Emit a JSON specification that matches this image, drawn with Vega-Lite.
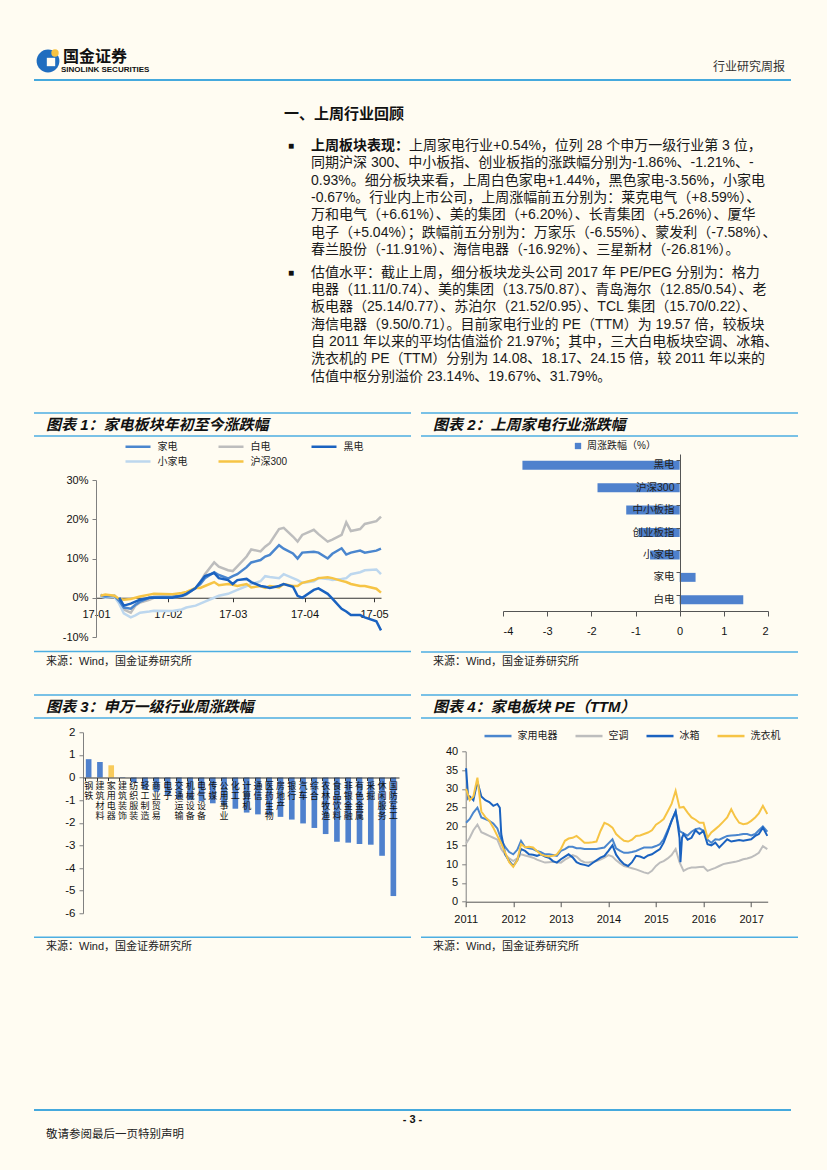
{
"$schema":"https://vega.github.io/schema/vega-lite/v6.json",
"padding":{"left":33,"top":40,"right":32,"bottom":25},
"background":"#FFFCF2",
"config":{
  "view":{"stroke":null},
  "font":"Liberation Sans, Noto Sans CJK SC",
  "axis":{"labelFont":"Liberation Sans, Noto Sans CJK SC","labelColor":"#111","labelFontSize":11,"domainColor":"#808080","tickColor":"#808080","grid":false},
  "legend":{"labelFont":"Liberation Sans, Noto Sans CJK SC","labelFontSize":10,"labelColor":"#222","padding":0},
  "text":{"font":"Liberation Sans, Noto Sans CJK SC"}
},
"resolve":{"scale":{"color":"independent","x":"independent","y":"independent"},"legend":{"color":"independent"}},
"spacing":0,
"vconcat":[
{
 "width":757,"height":40,
 "layer":[
  {"data":{"values":[{"p":0}]},"mark":{"type":"rule","color":"#45A9DD","strokeWidth":2},"encoding":{"y":{"field":"p","type":"quantitative","scale":{"domain":[0,1]},"axis":null}}},
  {"data":{"values":[{"k":"logo"}]},"mark":{"type":"point","shape":"circle","filled":true,"size":520,"color":"#1F6DBF","opacity":1,"xOffset":14,"yOffset":1},"encoding":{"x":{"datum":0,"type":"quantitative","scale":{"domain":[0,1]},"axis":null},"y":{"datum":0.5,"type":"quantitative","scale":{"domain":[0,1]},"axis":null}}},
  {"data":{"values":[{"k":"logo"}]},"mark":{"type":"point","shape":"square","filled":true,"size":70,"color":"#FFFCF2","opacity":1,"xOffset":17,"yOffset":2},"encoding":{"x":{"datum":0,"type":"quantitative","scale":{"domain":[0,1]},"axis":null},"y":{"datum":0.5,"type":"quantitative","scale":{"domain":[0,1]},"axis":null}}},
  {"data":{"values":[{"k":"logo"}]},"mark":{"type":"point","shape":"circle","filled":true,"size":55,"color":"#F5C242","opacity":1,"xOffset":21,"yOffset":-7},"encoding":{"x":{"datum":0,"type":"quantitative","scale":{"domain":[0,1]},"axis":null},"y":{"datum":0.5,"type":"quantitative","scale":{"domain":[0,1]},"axis":null}}},
  {"data":{"values":[{"t":"国金证券"}]},"mark":{"type":"text","align":"left","baseline":"middle","dx":29,"dy":-3,"fontSize":16,"fontWeight":"bold","font":"Noto Sans CJK SC","color":"#111"},"encoding":{"x":{"datum":0,"type":"quantitative","scale":{"domain":[0,1]},"axis":null},"y":{"datum":0.5,"type":"quantitative","scale":{"domain":[0,1]},"axis":null},"text":{"field":"t"}}},
  {"data":{"values":[{"t":"SINOLINK SECURITIES"}]},"mark":{"type":"text","align":"left","baseline":"middle","dx":27,"dy":10,"fontSize":8,"fontWeight":"bold","font":"Liberation Sans","color":"#111"},"encoding":{"x":{"datum":0,"type":"quantitative","scale":{"domain":[0,1]},"axis":null},"y":{"datum":0.5,"type":"quantitative","scale":{"domain":[0,1]},"axis":null},"text":{"field":"t"}}},
  {"data":{"values":[{"t":"行业研究周报"}]},"mark":{"type":"text","align":"right","baseline":"middle","dx":-6,"dy":7,"fontSize":12,"font":"Noto Sans CJK SC","color":"#333"},"encoding":{"x":{"datum":1,"type":"quantitative","scale":{"domain":[0,1]},"axis":null},"y":{"datum":0.5,"type":"quantitative","scale":{"domain":[0,1]},"axis":null},"text":{"field":"t"}}}
 ]
},
{
 "spacing":27,
 "resolve":{"scale":{"color":"independent","x":"independent","y":"independent"},"legend":{"color":"independent"}},
 "vconcat":[
  {
   "spacing":12,
   "hconcat":[
    {"width":238,"height":1,"data":{"values":[]},"mark":"point","encoding":{}},
    {
     "spacing":0,
     "vconcat":[
      {"width":507,"height":50,"data":{"values":[{"t":"一、上周行业回顾"}]},"mark":{"type":"text","align":"left","baseline":"middle","dy":8,"fontSize":15,"fontWeight":"bold","font":"Noto Sans CJK SC","color":"#111"},"encoding":{"x":{"datum":0,"type":"quantitative","scale":{"domain":[0,1]},"axis":null},"y":{"datum":0.5,"type":"quantitative","scale":{"domain":[0,1]},"axis":null},"text":{"field":"t"}}},
      {"width":507,"height":133.8,
       "data":{"values":[
        {"ln":1,"b":"■","pre":"上周板块表现：","t":"上周家电行业+0.54%，位列 28 个申万一级行业第 3 位，"},
        {"ln":2,"t":"同期沪深 300、中小板指、创业板指的涨跌幅分别为-1.86%、-1.21%、-"},
        {"ln":3,"t":"0.93%。细分板块来看，上周白色家电+1.44%，黑色家电-3.56%，小家电"},
        {"ln":4,"t":"-0.67%。行业内上市公司，上周涨幅前五分别为：莱克电气（+8.59%）、"},
        {"ln":5,"t":"万和电气（+6.61%）、美的集团（+6.20%）、长青集团（+5.26%）、厦华"},
        {"ln":6,"t":"电子（+5.04%）；跌幅前五分别为：万家乐（-6.55%）、蒙发利（-7.58%）、"},
        {"ln":7,"t":"春兰股份（-11.91%）、海信电器（-16.92%）、三星新材（-26.81%）。"}
       ]},
       "encoding":{"x":{"datum":0,"type":"quantitative","scale":{"domain":[0,1]},"axis":null},"y":{"field":"ln","type":"ordinal","scale":{"type":"point","padding":0.867},"axis":null}},
       "layer":[
        {"transform":[{"filter":"datum.b"}],"mark":{"type":"text","align":"left","baseline":"middle","dx":4,"fontSize":10,"color":"#111"},"encoding":{"text":{"field":"b"}}},
        {"transform":[{"filter":"datum.pre"}],"mark":{"type":"text","align":"left","baseline":"middle","dx":27,"fontSize":14,"fontWeight":"bold","color":"#111"},"encoding":{"text":{"field":"pre"}}},
        {"transform":[{"filter":"datum.pre"}],"mark":{"type":"text","align":"left","baseline":"middle","dx":125,"fontSize":14,"color":"#1a1a1a"},"encoding":{"text":{"field":"t"}}},
        {"transform":[{"filter":"!datum.pre"}],"mark":{"type":"text","align":"left","baseline":"middle","dx":27,"fontSize":14,"color":"#1a1a1a"},"encoding":{"text":{"field":"t"}}}
       ]},
      {"width":507,"height":119.2,
       "data":{"values":[
        {"ln":1,"b":"■","t":"估值水平：截止上周，细分板块龙头公司 2017 年 PE/PEG 分别为：格力"},
        {"ln":2,"t":"电器（11.11/0.74）、美的集团（13.75/0.87）、青岛海尔（12.85/0.54）、老"},
        {"ln":3,"t":"板电器（25.14/0.77）、苏泊尔（21.52/0.95）、TCL 集团（15.70/0.22）、"},
        {"ln":4,"t":"海信电器（9.50/0.71）。目前家电行业的 PE（TTM）为 19.57 倍，较板块"},
        {"ln":5,"t":"自 2011 年以来的平均估值溢价 21.97%；其中，三大白电板块空调、冰箱、"},
        {"ln":6,"t":"洗衣机的 PE（TTM）分别为 14.08、18.17、24.15 倍，较 2011 年以来的"},
        {"ln":7,"t":"估值中枢分别溢价 23.14%、19.67%、31.79%。"}
       ]},
       "encoding":{"x":{"datum":0,"type":"quantitative","scale":{"domain":[0,1]},"axis":null},"y":{"field":"ln","type":"ordinal","scale":{"type":"point","padding":0.445},"axis":null}},
       "layer":[
        {"transform":[{"filter":"datum.b"}],"mark":{"type":"text","align":"left","baseline":"middle","dx":4,"fontSize":10,"color":"#111"},"encoding":{"text":{"field":"b"}}},
        {"mark":{"type":"text","align":"left","baseline":"middle","dx":27,"fontSize":14,"color":"#1a1a1a"},"encoding":{"text":{"field":"t"}}}
       ]}
     ]
    }
   ]
  },
  {
   "spacing":22,
   "resolve":{"scale":{"color":"independent","x":"independent","y":"independent"},"legend":{"color":"independent"}},
   "vconcat":[
    {
     "spacing":8,
     "resolve":{"scale":{"color":"independent","x":"independent","y":"independent"},"legend":{"color":"independent"}},
     "hconcat":[
      {
       "spacing":8.5,
       "resolve":{"scale":{"color":"independent","x":"independent","y":"independent"},"legend":{"color":"independent"}},
       "vconcat":[
        {
         "spacing":3,
         "resolve":{"scale":{"color":"independent","x":"independent","y":"independent"},"legend":{"color":"independent"}},
         "vconcat":[
          {"width":377,"height":23,"layer":[
            {"data":{"values":[{"p":0},{"p":1}]},"mark":{"type":"rule","color":"#4DAEE2","strokeWidth":1.5},"encoding":{"y":{"field":"p","type":"quantitative","scale":{"domain":[0,1]},"axis":null}}},
            {"data":{"values":[{"t":"图表 1：家电板块年初至今涨跌幅"}]},"mark":{"type":"text","align":"left","baseline":"middle","dx":12,"fontSize":15,"fontWeight":"bold","fontStyle":"italic","color":"#111"},"encoding":{"x":{"datum":0,"type":"quantitative","scale":{"domain":[0,1]},"axis":null},"y":{"datum":0.5,"type":"quantitative","scale":{"domain":[0,1]},"axis":null},"text":{"field":"t"}}}
          ]},
          {
           "spacing":21,
           "resolve":{"scale":{"color":"independent","x":"independent","y":"independent"},"legend":{"color":"independent"}},
           "hconcat":[
            {"width":1,"height":1,"data":{"values":[]},"mark":"point","encoding":{}},
            {
             "width":285,"height":157,
             "data":{"values":[
{"s":"白电","d":"2017-01-03","v":0.8},{"s":"白电","d":"2017-01-05","v":0.3},{"s":"白电","d":"2017-01-09","v":0.4},{"s":"白电","d":"2017-01-11","v":-1.0},{"s":"白电","d":"2017-01-13","v":-3.0},{"s":"白电","d":"2017-01-16","v":-3.8},{"s":"白电","d":"2017-01-18","v":-2.0},{"s":"白电","d":"2017-01-20","v":-1.2},{"s":"白电","d":"2017-01-24","v":-0.5},{"s":"白电","d":"2017-01-26","v":0.0},
{"s":"白电","d":"2017-02-03","v":0.0},{"s":"白电","d":"2017-02-07","v":0.3},{"s":"白电","d":"2017-02-09","v":0.8},{"s":"白电","d":"2017-02-13","v":2.5},{"s":"白电","d":"2017-02-15","v":4.0},{"s":"白电","d":"2017-02-17","v":6.0},{"s":"白电","d":"2017-02-21","v":9.0},{"s":"白电","d":"2017-02-23","v":7.9},{"s":"白电","d":"2017-02-27","v":7.0},
{"s":"白电","d":"2017-03-01","v":6.8},{"s":"白电","d":"2017-03-03","v":8.0},{"s":"白电","d":"2017-03-07","v":10.5},{"s":"白电","d":"2017-03-09","v":12.3},{"s":"白电","d":"2017-03-13","v":11.8},{"s":"白电","d":"2017-03-15","v":13.0},{"s":"白电","d":"2017-03-17","v":13.9},{"s":"白电","d":"2017-03-21","v":17.5},{"s":"白电","d":"2017-03-23","v":17.8},{"s":"白电","d":"2017-03-27","v":15.6},{"s":"白电","d":"2017-03-29","v":14.3},{"s":"白电","d":"2017-03-31","v":16.0},
{"s":"白电","d":"2017-04-05","v":17.3},{"s":"白电","d":"2017-04-07","v":16.2},{"s":"白电","d":"2017-04-11","v":14.3},{"s":"白电","d":"2017-04-13","v":14.8},{"s":"白电","d":"2017-04-17","v":16.0},{"s":"白电","d":"2017-04-19","v":19.2},{"s":"白电","d":"2017-04-21","v":17.0},{"s":"白电","d":"2017-04-25","v":17.5},{"s":"白电","d":"2017-04-27","v":18.8},
{"s":"白电","d":"2017-05-02","v":19.5},{"s":"白电","d":"2017-05-04","v":20.7},
{"s":"小家电","d":"2017-01-03","v":0.3},{"s":"小家电","d":"2017-01-05","v":0.0},{"s":"小家电","d":"2017-01-09","v":0.2},{"s":"小家电","d":"2017-01-11","v":-1.5},{"s":"小家电","d":"2017-01-13","v":-4.0},{"s":"小家电","d":"2017-01-16","v":-5.0},{"s":"小家电","d":"2017-01-18","v":-4.5},{"s":"小家电","d":"2017-01-20","v":-3.8},{"s":"小家电","d":"2017-01-24","v":-3.5},{"s":"小家电","d":"2017-01-26","v":-3.3},
{"s":"小家电","d":"2017-02-03","v":-3.4},{"s":"小家电","d":"2017-02-07","v":-3.0},{"s":"小家电","d":"2017-02-09","v":-2.5},{"s":"小家电","d":"2017-02-13","v":-2.0},{"s":"小家电","d":"2017-02-15","v":-1.5},{"s":"小家电","d":"2017-02-17","v":-1.0},{"s":"小家电","d":"2017-02-21","v":0.0},{"s":"小家电","d":"2017-02-23","v":0.5},{"s":"小家电","d":"2017-02-27","v":1.0},
{"s":"小家电","d":"2017-03-01","v":1.5},{"s":"小家电","d":"2017-03-03","v":2.0},{"s":"小家电","d":"2017-03-07","v":3.0},{"s":"小家电","d":"2017-03-09","v":3.5},{"s":"小家电","d":"2017-03-13","v":4.2},{"s":"小家电","d":"2017-03-15","v":5.5},{"s":"小家电","d":"2017-03-17","v":5.3},{"s":"小家电","d":"2017-03-21","v":5.0},{"s":"小家电","d":"2017-03-23","v":6.0},{"s":"小家电","d":"2017-03-27","v":5.0},{"s":"小家电","d":"2017-03-29","v":4.5},{"s":"小家电","d":"2017-03-31","v":3.8},
{"s":"小家电","d":"2017-04-05","v":4.2},{"s":"小家电","d":"2017-04-07","v":5.0},{"s":"小家电","d":"2017-04-11","v":4.8},{"s":"小家电","d":"2017-04-13","v":4.5},{"s":"小家电","d":"2017-04-17","v":4.8},{"s":"小家电","d":"2017-04-19","v":5.0},{"s":"小家电","d":"2017-04-21","v":6.0},{"s":"小家电","d":"2017-04-25","v":6.5},{"s":"小家电","d":"2017-04-27","v":7.0},
{"s":"小家电","d":"2017-05-02","v":7.2},{"s":"小家电","d":"2017-05-04","v":6.0},
{"s":"家电","d":"2017-01-03","v":0.5},{"s":"家电","d":"2017-01-05","v":0.3},{"s":"家电","d":"2017-01-09","v":0.5},{"s":"家电","d":"2017-01-11","v":-0.8},{"s":"家电","d":"2017-01-13","v":-2.5},{"s":"家电","d":"2017-01-16","v":-2.8},{"s":"家电","d":"2017-01-18","v":-1.8},{"s":"家电","d":"2017-01-20","v":-1.0},{"s":"家电","d":"2017-01-24","v":0.0},{"s":"家电","d":"2017-01-26","v":0.2},
{"s":"家电","d":"2017-02-03","v":0.3},{"s":"家电","d":"2017-02-07","v":0.5},{"s":"家电","d":"2017-02-09","v":1.0},{"s":"家电","d":"2017-02-13","v":2.5},{"s":"家电","d":"2017-02-15","v":3.5},{"s":"家电","d":"2017-02-17","v":5.0},{"s":"家电","d":"2017-02-21","v":6.5},{"s":"家电","d":"2017-02-23","v":5.8},{"s":"家电","d":"2017-02-27","v":4.9},
{"s":"家电","d":"2017-03-01","v":5.5},{"s":"家电","d":"2017-03-03","v":6.0},{"s":"家电","d":"2017-03-07","v":7.8},{"s":"家电","d":"2017-03-09","v":9.0},{"s":"家电","d":"2017-03-13","v":9.6},{"s":"家电","d":"2017-03-15","v":10.5},{"s":"家电","d":"2017-03-17","v":10.9},{"s":"家电","d":"2017-03-21","v":13.4},{"s":"家电","d":"2017-03-23","v":12.5},{"s":"家电","d":"2017-03-27","v":11.3},{"s":"家电","d":"2017-03-29","v":10.0},{"s":"家电","d":"2017-03-31","v":11.5},
{"s":"家电","d":"2017-04-05","v":11.7},{"s":"家电","d":"2017-04-07","v":11.5},{"s":"家电","d":"2017-04-11","v":10.0},{"s":"家电","d":"2017-04-13","v":11.2},{"s":"家电","d":"2017-04-17","v":12.6},{"s":"家电","d":"2017-04-19","v":11.0},{"s":"家电","d":"2017-04-21","v":11.5},{"s":"家电","d":"2017-04-25","v":12.0},{"s":"家电","d":"2017-04-27","v":11.5},
{"s":"家电","d":"2017-05-02","v":12.0},{"s":"家电","d":"2017-05-04","v":12.5},
{"s":"沪深300","d":"2017-01-03","v":0.5},{"s":"沪深300","d":"2017-01-05","v":0.8},{"s":"沪深300","d":"2017-01-09","v":0.5},{"s":"沪深300","d":"2017-01-11","v":-0.3},{"s":"沪深300","d":"2017-01-13","v":-0.5},{"s":"沪深300","d":"2017-01-16","v":-0.3},{"s":"沪深300","d":"2017-01-18","v":0.0},{"s":"沪深300","d":"2017-01-20","v":0.3},{"s":"沪深300","d":"2017-01-24","v":0.8},{"s":"沪深300","d":"2017-01-26","v":1.0},
{"s":"沪深300","d":"2017-02-03","v":0.9},{"s":"沪深300","d":"2017-02-07","v":1.2},{"s":"沪深300","d":"2017-02-09","v":1.5},{"s":"沪深300","d":"2017-02-13","v":2.5},{"s":"沪深300","d":"2017-02-15","v":2.5},{"s":"沪深300","d":"2017-02-17","v":3.0},{"s":"沪深300","d":"2017-02-21","v":4.0},{"s":"沪深300","d":"2017-02-23","v":3.2},{"s":"沪深300","d":"2017-02-27","v":3.5},
{"s":"沪深300","d":"2017-03-01","v":3.3},{"s":"沪深300","d":"2017-03-03","v":3.0},{"s":"沪深300","d":"2017-03-07","v":3.5},{"s":"沪深300","d":"2017-03-09","v":2.6},{"s":"沪深300","d":"2017-03-13","v":3.0},{"s":"沪深300","d":"2017-03-15","v":2.5},{"s":"沪深300","d":"2017-03-17","v":3.0},{"s":"沪深300","d":"2017-03-21","v":2.6},{"s":"沪深300","d":"2017-03-23","v":3.5},{"s":"沪深300","d":"2017-03-27","v":3.0},{"s":"沪深300","d":"2017-03-29","v":3.0},{"s":"沪深300","d":"2017-03-31","v":3.8},
{"s":"沪深300","d":"2017-04-05","v":4.5},{"s":"沪深300","d":"2017-04-07","v":5.0},{"s":"沪深300","d":"2017-04-11","v":5.2},{"s":"沪深300","d":"2017-04-13","v":5.0},{"s":"沪深300","d":"2017-04-17","v":4.3},{"s":"沪深300","d":"2017-04-19","v":4.0},{"s":"沪深300","d":"2017-04-21","v":3.5},{"s":"沪深300","d":"2017-04-25","v":3.0},{"s":"沪深300","d":"2017-04-27","v":3.0},
{"s":"沪深300","d":"2017-05-02","v":2.3},{"s":"沪深300","d":"2017-05-04","v":1.3},
{"s":"黑电","d":"2017-01-11","v":0.0},{"s":"黑电","d":"2017-01-13","v":-2.0},{"s":"黑电","d":"2017-01-16","v":-1.5},{"s":"黑电","d":"2017-01-18","v":-1.0},{"s":"黑电","d":"2017-01-20","v":-0.5},{"s":"黑电","d":"2017-01-24","v":0.0},{"s":"黑电","d":"2017-01-26","v":0.0},
{"s":"黑电","d":"2017-02-03","v":0.0},{"s":"黑电","d":"2017-02-07","v":0.5},{"s":"黑电","d":"2017-02-09","v":1.0},{"s":"黑电","d":"2017-02-13","v":2.5},{"s":"黑电","d":"2017-02-15","v":4.0},{"s":"黑电","d":"2017-02-17","v":5.5},{"s":"黑电","d":"2017-02-21","v":6.3},{"s":"黑电","d":"2017-02-23","v":5.0},{"s":"黑电","d":"2017-02-27","v":4.5},
{"s":"黑电","d":"2017-03-01","v":3.5},{"s":"黑电","d":"2017-03-03","v":4.5},{"s":"黑电","d":"2017-03-07","v":4.8},{"s":"黑电","d":"2017-03-09","v":4.0},{"s":"黑电","d":"2017-03-13","v":3.0},{"s":"黑电","d":"2017-03-15","v":2.8},{"s":"黑电","d":"2017-03-17","v":2.5},{"s":"黑电","d":"2017-03-21","v":3.0},{"s":"黑电","d":"2017-03-23","v":3.5},{"s":"黑电","d":"2017-03-27","v":2.8},{"s":"黑电","d":"2017-03-29","v":0.5},{"s":"黑电","d":"2017-03-31","v":0.0},
{"s":"黑电","d":"2017-04-05","v":2.0},{"s":"黑电","d":"2017-04-07","v":2.4},{"s":"黑电","d":"2017-04-11","v":1.0},{"s":"黑电","d":"2017-04-13","v":-0.2},{"s":"黑电","d":"2017-04-17","v":-2.8},{"s":"黑电","d":"2017-04-19","v":-3.5},{"s":"黑电","d":"2017-04-21","v":-4.4},{"s":"黑电","d":"2017-04-25","v":-4.4},{"s":"黑电","d":"2017-04-27","v":-5.0},
{"s":"黑电","d":"2017-05-02","v":-6.0},{"s":"黑电","d":"2017-05-04","v":-8.3}
             ]},
             "mark":{"type":"line","strokeWidth":2.5},
             "encoding":{
              "x":{"field":"d","type":"temporal","scale":{"domain":[{"year":2017,"month":1,"date":1},{"year":2017,"month":5,"date":4}]},"axis":{"title":null,"format":"%y-%m","tickCount":{"interval":"month","step":1},"offset":-39.25,"labelFlush":false,"labelOverlap":false,"labelPadding":7,"tickSize":4,"domainColor":"#333","tickColor":"#333"}},
              "y":{"field":"v","type":"quantitative","scale":{"domain":[-10,30]},"axis":{"title":null,"values":[-10,0,10,20,30],"labelExpr":"datum.value + '%'","tickSize":4,"labelPadding":4,"minExtent":40,"maxExtent":40}},
              "color":{"field":"s","type":"nominal","scale":{"domain":["家电","白电","黑电","小家电","沪深300"],"range":["#4A86CE","#BDBDBD","#1A62C0","#BDD7EE","#F6C445"]},"legend":{"title":null,"orient":"none","legendX":35.5,"legendY":-40,"direction":"horizontal","columns":3,"gridAlign":"all","columnPadding":19,"rowPadding":3,"symbolType":"M-2.5,0H2.5","symbolSize":100,"symbolStrokeWidth":2.5,"labelOffset":13}}
             }
            }
           ]
          }
         ]
        },
        {"width":377,"height":20,"layer":[
          {"data":{"values":[{"p":1}]},"mark":{"type":"rule","color":"#4DAEE2","strokeWidth":1.5},"encoding":{"y":{"field":"p","type":"quantitative","scale":{"domain":[0,1]},"axis":null}}},
          {"data":{"values":[{"t":"来源：Wind，国金证券研究所"}]},"mark":{"type":"text","align":"left","baseline":"middle","dx":12,"dy":10,"fontSize":11,"color":"#222"},"encoding":{"x":{"datum":0,"type":"quantitative","scale":{"domain":[0,1]},"axis":null},"y":{"datum":1,"type":"quantitative","scale":{"domain":[0,1]},"axis":null},"text":{"field":"t"}}}
        ]}
       ]
      },
      {
       "spacing":15,
       "resolve":{"scale":{"color":"independent","x":"independent","y":"independent"},"legend":{"color":"independent"}},
       "vconcat":[
        {
         "spacing":4,
         "resolve":{"scale":{"color":"independent","x":"independent","y":"independent"},"legend":{"color":"independent"}},
         "vconcat":[
          {"width":377,"height":23,"layer":[
            {"data":{"values":[{"p":0},{"p":1}]},"mark":{"type":"rule","color":"#4DAEE2","strokeWidth":1.5},"encoding":{"y":{"field":"p","type":"quantitative","scale":{"domain":[0,1]},"axis":null}}},
            {"data":{"values":[{"t":"图表 2：上周家电行业涨跌幅"}]},"mark":{"type":"text","align":"left","baseline":"middle","dx":12,"fontSize":15,"fontWeight":"bold","fontStyle":"italic","color":"#111"},"encoding":{"x":{"datum":0,"type":"quantitative","scale":{"domain":[0,1]},"axis":null},"y":{"datum":0.5,"type":"quantitative","scale":{"domain":[0,1]},"axis":null},"text":{"field":"t"}}}
          ]},
          {
           "spacing":80,
           "resolve":{"scale":{"color":"independent","x":"independent","y":"independent"},"legend":{"color":"independent"}},
           "hconcat":[
            {"width":1,"height":1,"data":{"values":[]},"mark":"point","encoding":{}},
            {
             "width":265,"height":157,
             "data":{"values":[
              {"c":"黑电","v":-3.56,"k":"周涨跌幅（%）"},
              {"c":"沪深300","v":-1.86,"k":"周涨跌幅（%）"},
              {"c":"中小板指","v":-1.21,"k":"周涨跌幅（%）"},
              {"c":"创业板指","v":-0.93,"k":"周涨跌幅（%）"},
              {"c":"小家电","v":-0.67,"k":"周涨跌幅（%）"},
              {"c":"家电","v":0.36,"k":"周涨跌幅（%）"},
              {"c":"白电","v":1.44,"k":"周涨跌幅（%）"}
             ]},
             "mark":{"type":"bar"},
             "encoding":{
              "y":{"field":"c","type":"nominal","sort":null,"scale":{"paddingInner":0.6,"paddingOuter":0.3},"axis":{"title":null,"offset":-177,"zindex":1,"ticks":true,"bandPosition":0,"tickSize":4,"tickColor":"#555","labelPadding":2,"domainColor":"#555","labelFontSize":10.5,"labelColor":"#222"}},
              "x":{"field":"v","type":"quantitative","scale":{"domain":[-4,2]},"axis":{"title":null,"values":[-4,-3,-2,-1,0,1,2],"labelExpr":"'' + datum.value","tickSize":5,"labelPadding":9,"domainColor":"#555","tickColor":"#555"}},
              "color":{"field":"k","type":"nominal","scale":{"range":["#4F81CD"]},"legend":{"title":null,"orient":"none","legendX":70,"legendY":-13,"symbolType":"square","symbolSize":40}}
             }
            }
           ]
          }
         ]
        },
        {"width":377,"height":20,"layer":[
          {"data":{"values":[{"p":1}]},"mark":{"type":"rule","color":"#4DAEE2","strokeWidth":1.5},"encoding":{"y":{"field":"p","type":"quantitative","scale":{"domain":[0,1]},"axis":null}}},
          {"data":{"values":[{"t":"来源：Wind，国金证券研究所"}]},"mark":{"type":"text","align":"left","baseline":"middle","dx":12,"dy":10,"fontSize":11,"color":"#222"},"encoding":{"x":{"datum":0,"type":"quantitative","scale":{"domain":[0,1]},"axis":null},"y":{"datum":1,"type":"quantitative","scale":{"domain":[0,1]},"axis":null},"text":{"field":"t"}}}
        ]}
       ]
      }
     ]
    },
    {
     "spacing":151,
     "resolve":{"scale":{"color":"independent","x":"independent","y":"independent"},"legend":{"color":"independent"}},
     "vconcat":[
      {
       "spacing":8,
       "resolve":{"scale":{"color":"independent","x":"independent","y":"independent"},"legend":{"color":"independent"}},
       "hconcat":[
        {
         "spacing":17.25,
         "resolve":{"scale":{"color":"independent","x":"independent","y":"independent"},"legend":{"color":"independent"}},
         "vconcat":[
          {
           "spacing":7.25,
           "resolve":{"scale":{"color":"independent","x":"independent","y":"independent"},"legend":{"color":"independent"}},
           "vconcat":[
            {"width":377,"height":23,"layer":[
              {"data":{"values":[{"p":0},{"p":1}]},"mark":{"type":"rule","color":"#4DAEE2","strokeWidth":1.5},"encoding":{"y":{"field":"p","type":"quantitative","scale":{"domain":[0,1]},"axis":null}}},
              {"data":{"values":[{"t":"图表 3：申万一级行业周涨跌幅"}]},"mark":{"type":"text","align":"left","baseline":"middle","dx":12,"fontSize":15,"fontWeight":"bold","fontStyle":"italic","color":"#111"},"encoding":{"x":{"datum":0,"type":"quantitative","scale":{"domain":[0,1]},"axis":null},"y":{"datum":0.5,"type":"quantitative","scale":{"domain":[0,1]},"axis":null},"text":{"field":"t"}}}
            ]},
            {
             "spacing":13,
             "resolve":{"scale":{"color":"independent","x":"independent","y":"independent"},"legend":{"color":"independent"}},
             "hconcat":[
              {"width":1,"height":1,"data":{"values":[]},"mark":"point","encoding":{}},
              {
               "width":316,"height":181,
               "data":{"values":[
                {"c":"钢铁","v":0.81},{"c":"建筑材料","v":0.68},{"c":"家用电器","v":0.54},{"c":"建筑装饰","v":0.02},
                {"c":"纺织服装","v":-0.21},{"c":"轻工制造","v":-0.52},{"c":"商业贸易","v":-0.63},{"c":"电子","v":-0.8},
                {"c":"交通运输","v":-0.95},{"c":"机械设备","v":-1.0},{"c":"电气设备","v":-1.05},{"c":"传媒","v":-1.14},
                {"c":"公用事业","v":-1.22},{"c":"化工","v":-1.38},{"c":"计算机","v":-1.55},{"c":"通信","v":-1.63},
                {"c":"医药生物","v":-1.66},{"c":"房地产","v":-1.74},{"c":"银行","v":-1.86},{"c":"汽车","v":-2.03},
                {"c":"综合","v":-2.23},{"c":"农林牧渔","v":-2.5},{"c":"食品饮料","v":-2.84},{"c":"非银金融","v":-2.88},
                {"c":"有色金属","v":-2.94},{"c":"采掘","v":-2.97},{"c":"休闲服务","v":-3.46},{"c":"国防军工","v":-5.24}
               ]},
               "mark":{"type":"bar"},
               "encoding":{
                "x":{"field":"c","type":"nominal","sort":null,"scale":{"paddingInner":0.5,"paddingOuter":0.25},"axis":{"title":null,"offset":-135.75,"labelAngle":0,"labelExpr":"split(datum.label, '')","labelFontSize":9,"labelLineHeight":10,"labelBaseline":"top","labelPadding":1,"ticks":true,"bandPosition":0,"tickSize":3,"tickColor":"#333","zindex":1,"labelColor":"#111","domainColor":"#333"}},
                "y":{"field":"v","type":"quantitative","scale":{"domain":[-6,2]},"axis":{"title":null,"values":[-6,-5,-4,-3,-2,-1,0,1,2],"labelExpr":"'' + datum.value","tickSize":4,"labelPadding":4,"labelFontSize":11.5,"minExtent":35,"maxExtent":35}},
                "color":{"condition":{"test":"datum.c === '家用电器'","value":"#F8CB5C"},"value":"#4F81CD"}
               }
              }
             ]
            }
           ]
          },
          {"width":377,"height":20,"layer":[
            {"data":{"values":[{"p":1}]},"mark":{"type":"rule","color":"#4DAEE2","strokeWidth":1.5},"encoding":{"y":{"field":"p","type":"quantitative","scale":{"domain":[0,1]},"axis":null}}},
            {"data":{"values":[{"t":"来源：Wind，国金证券研究所"}]},"mark":{"type":"text","align":"left","baseline":"middle","dx":12,"dy":10,"fontSize":11,"color":"#222"},"encoding":{"x":{"datum":0,"type":"quantitative","scale":{"domain":[0,1]},"axis":null},"y":{"datum":1,"type":"quantitative","scale":{"domain":[0,1]},"axis":null},"text":{"field":"t"}}}
          ]}
         ]
        },
        {
         "spacing":11.3,
         "resolve":{"scale":{"color":"independent","x":"independent","y":"independent"},"legend":{"color":"independent"}},
         "vconcat":[
          {
           "spacing":10.3,
           "resolve":{"scale":{"color":"independent","x":"independent","y":"independent"},"legend":{"color":"independent"}},
           "vconcat":[
            {"width":377,"height":23,"layer":[
              {"data":{"values":[{"p":0},{"p":1}]},"mark":{"type":"rule","color":"#4DAEE2","strokeWidth":1.5},"encoding":{"y":{"field":"p","type":"quantitative","scale":{"domain":[0,1]},"axis":null}}},
              {"data":{"values":[{"t":"图表 4：家电板块 PE（TTM）"}]},"mark":{"type":"text","align":"left","baseline":"middle","dx":12,"fontSize":15,"fontWeight":"bold","fontStyle":"italic","color":"#111"},"encoding":{"x":{"datum":0,"type":"quantitative","scale":{"domain":[0,1]},"axis":null},"y":{"datum":0.5,"type":"quantitative","scale":{"domain":[0,1]},"axis":null},"text":{"field":"t"}}}
            ]},
            {
             "spacing":13.7,
             "resolve":{"scale":{"color":"independent","x":"independent","y":"independent"},"legend":{"color":"independent"}},
             "hconcat":[
              {"width":1,"height":1,"data":{"values":[]},"mark":"point","encoding":{}},
              {
               "width":302,"height":150.4,
               "data":{"values":[
{"s":"空调","d":"2011-01-04","v":15.5},{"s":"空调","d":"2011-02","v":17},{"s":"空调","d":"2011-03","v":19},{"s":"空调","d":"2011-04","v":20.5},{"s":"空调","d":"2011-05","v":18.5},{"s":"空调","d":"2011-06","v":18},{"s":"空调","d":"2011-07","v":17.5},{"s":"空调","d":"2011-08","v":17},{"s":"空调","d":"2011-09","v":16.5},{"s":"空调","d":"2011-10","v":14},{"s":"空调","d":"2011-11","v":12.5},{"s":"空调","d":"2011-12","v":11.5},
{"s":"空调","d":"2012-01","v":10.8},{"s":"空调","d":"2012-02","v":11.5},{"s":"空调","d":"2012-03","v":12.6},{"s":"空调","d":"2012-04","v":12.3},{"s":"空调","d":"2012-05","v":12},{"s":"空调","d":"2012-06","v":11.7},{"s":"空调","d":"2012-07","v":11.2},{"s":"空调","d":"2012-08","v":10.8},{"s":"空调","d":"2012-09","v":10.4},{"s":"空调","d":"2012-10","v":10.5},{"s":"空调","d":"2012-11","v":10.6},{"s":"空调","d":"2012-12","v":10.5},
{"s":"空调","d":"2013-01","v":10.4},{"s":"空调","d":"2013-02","v":11.2},{"s":"空调","d":"2013-03","v":11.7},{"s":"空调","d":"2013-04","v":12.4},{"s":"空调","d":"2013-05","v":12},{"s":"空调","d":"2013-06","v":11},{"s":"空调","d":"2013-07","v":10.5},{"s":"空调","d":"2013-08","v":10.4},{"s":"空调","d":"2013-09","v":10.6},{"s":"空调","d":"2013-10","v":10.8},{"s":"空调","d":"2013-11","v":11.2},{"s":"空调","d":"2013-12","v":11.7},
{"s":"空调","d":"2014-01","v":12.4},{"s":"空调","d":"2014-02","v":12},{"s":"空调","d":"2014-03","v":11},{"s":"空调","d":"2014-04","v":10.2},{"s":"空调","d":"2014-05","v":9.5},{"s":"空调","d":"2014-06","v":9.2},{"s":"空调","d":"2014-07","v":8.9},{"s":"空调","d":"2014-08","v":8.6},{"s":"空调","d":"2014-09","v":8.2},{"s":"空调","d":"2014-10","v":7.8},{"s":"空调","d":"2014-11","v":7.5},{"s":"空调","d":"2014-12","v":8.2},
{"s":"空调","d":"2015-01","v":9.5},{"s":"空调","d":"2015-02","v":10.4},{"s":"空调","d":"2015-03","v":10.8},{"s":"空调","d":"2015-04","v":11.5},{"s":"空调","d":"2015-05","v":12.4},{"s":"空调","d":"2015-06","v":14},{"s":"空调","d":"2015-07","v":10.5},{"s":"空调","d":"2015-08","v":8.2},{"s":"空调","d":"2015-09","v":8.8},{"s":"空调","d":"2015-10","v":9.1},{"s":"空调","d":"2015-11","v":9.1},{"s":"空调","d":"2015-12","v":9.2},
{"s":"空调","d":"2016-01","v":9.3},{"s":"空调","d":"2016-02","v":8.2},{"s":"空调","d":"2016-03","v":8.6},{"s":"空调","d":"2016-04","v":9},{"s":"空调","d":"2016-05","v":9.5},{"s":"空调","d":"2016-06","v":10},{"s":"空调","d":"2016-07","v":10.2},{"s":"空调","d":"2016-08","v":10.4},{"s":"空调","d":"2016-09","v":10.6},{"s":"空调","d":"2016-10","v":10.9},{"s":"空调","d":"2016-11","v":11.3},{"s":"空调","d":"2016-12","v":11.5},
{"s":"空调","d":"2017-01","v":11.8},{"s":"空调","d":"2017-02","v":12.4},{"s":"空调","d":"2017-03","v":13},{"s":"空调","d":"2017-04","v":14.8},{"s":"空调","d":"2017-05-05","v":14},
{"s":"家用电器","d":"2011-01-04","v":21},{"s":"家用电器","d":"2011-02","v":22},{"s":"家用电器","d":"2011-03","v":23.7},{"s":"家用电器","d":"2011-04","v":25},{"s":"家用电器","d":"2011-05","v":22.4},{"s":"家用电器","d":"2011-06","v":22},{"s":"家用电器","d":"2011-07","v":21.5},{"s":"家用电器","d":"2011-08","v":20.8},{"s":"家用电器","d":"2011-09","v":19.5},{"s":"家用电器","d":"2011-10","v":16.5},{"s":"家用电器","d":"2011-11","v":14.5},{"s":"家用电器","d":"2011-12","v":13.2},
{"s":"家用电器","d":"2012-01","v":12.6},{"s":"家用电器","d":"2012-02","v":13.8},{"s":"家用电器","d":"2012-03","v":16.2},{"s":"家用电器","d":"2012-04","v":14.5},{"s":"家用电器","d":"2012-05","v":14.2},{"s":"家用电器","d":"2012-06","v":14},{"s":"家用电器","d":"2012-07","v":13.5},{"s":"家用电器","d":"2012-08","v":13.2},{"s":"家用电器","d":"2012-09","v":12.6},{"s":"家用电器","d":"2012-10","v":12.6},{"s":"家用电器","d":"2012-11","v":12.4},{"s":"家用电器","d":"2012-12","v":12.2},
{"s":"家用电器","d":"2013-01","v":13.5},{"s":"家用电器","d":"2013-02","v":14},{"s":"家用电器","d":"2013-03","v":14.6},{"s":"家用电器","d":"2013-04","v":14.6},{"s":"家用电器","d":"2013-05","v":14.2},{"s":"家用电器","d":"2013-06","v":14.2},{"s":"家用电器","d":"2013-07","v":14},{"s":"家用电器","d":"2013-08","v":14},{"s":"家用电器","d":"2013-09","v":14},{"s":"家用电器","d":"2013-10","v":14},{"s":"家用电器","d":"2013-11","v":14.2},{"s":"家用电器","d":"2013-12","v":14.4},
{"s":"家用电器","d":"2014-01","v":15.5},{"s":"家用电器","d":"2014-02","v":16.6},{"s":"家用电器","d":"2014-03","v":14.2},{"s":"家用电器","d":"2014-04","v":13.5},{"s":"家用电器","d":"2014-05","v":13},{"s":"家用电器","d":"2014-06","v":13},{"s":"家用电器","d":"2014-07","v":13.2},{"s":"家用电器","d":"2014-08","v":13.5},{"s":"家用电器","d":"2014-09","v":14},{"s":"家用电器","d":"2014-10","v":14.4},{"s":"家用电器","d":"2014-11","v":14.4},{"s":"家用电器","d":"2014-12","v":14.4},
{"s":"家用电器","d":"2015-01","v":14.8},{"s":"家用电器","d":"2015-02","v":15.3},{"s":"家用电器","d":"2015-03","v":16.6},{"s":"家用电器","d":"2015-04","v":19},{"s":"家用电器","d":"2015-05","v":21.5},{"s":"家用电器","d":"2015-06","v":24},{"s":"家用电器","d":"2015-07","v":18.8},{"s":"家用电器","d":"2015-08","v":18.2},{"s":"家用电器","d":"2015-09","v":17.6},{"s":"家用电器","d":"2015-10","v":18.6},{"s":"家用电器","d":"2015-11","v":19.3},{"s":"家用电器","d":"2015-12","v":19.5},
{"s":"家用电器","d":"2016-01","v":18.8},{"s":"家用电器","d":"2016-02","v":16.5},{"s":"家用电器","d":"2016-03","v":15.7},{"s":"家用电器","d":"2016-04","v":16.6},{"s":"家用电器","d":"2016-05","v":16.5},{"s":"家用电器","d":"2016-06","v":17},{"s":"家用电器","d":"2016-07","v":17.5},{"s":"家用电器","d":"2016-08","v":17.6},{"s":"家用电器","d":"2016-09","v":17.7},{"s":"家用电器","d":"2016-10","v":17.8},{"s":"家用电器","d":"2016-11","v":18},{"s":"家用电器","d":"2016-12","v":18},
{"s":"家用电器","d":"2017-01","v":17.6},{"s":"家用电器","d":"2017-02","v":18},{"s":"家用电器","d":"2017-03","v":19},{"s":"家用电器","d":"2017-04","v":20},{"s":"家用电器","d":"2017-05-05","v":18.6},
{"s":"冰箱","d":"2011-01-04","v":35.5},{"s":"冰箱","d":"2011-01-20","v":27.5},{"s":"冰箱","d":"2011-02","v":28},{"s":"冰箱","d":"2011-03","v":27},{"s":"冰箱","d":"2011-04","v":32},{"s":"冰箱","d":"2011-05","v":28},{"s":"冰箱","d":"2011-06","v":27},{"s":"冰箱","d":"2011-07","v":26.5},{"s":"冰箱","d":"2011-08","v":25.5},{"s":"冰箱","d":"2011-09","v":26},{"s":"冰箱","d":"2011-09-20","v":25},{"s":"冰箱","d":"2011-10","v":18},{"s":"冰箱","d":"2011-11","v":12.5},{"s":"冰箱","d":"2011-12","v":10.8},
{"s":"冰箱","d":"2012-01","v":9.5},{"s":"冰箱","d":"2012-02","v":11},{"s":"冰箱","d":"2012-03","v":14},{"s":"冰箱","d":"2012-04","v":13.5},{"s":"冰箱","d":"2012-05","v":12.6},{"s":"冰箱","d":"2012-06","v":12.5},{"s":"冰箱","d":"2012-07","v":12.2},{"s":"冰箱","d":"2012-08","v":12.6},{"s":"冰箱","d":"2012-09","v":12},{"s":"冰箱","d":"2012-10","v":11.7},{"s":"冰箱","d":"2012-11","v":10.8},{"s":"冰箱","d":"2012-12","v":10.4},
{"s":"冰箱","d":"2013-01","v":11.3},{"s":"冰箱","d":"2013-02","v":12},{"s":"冰箱","d":"2013-03","v":12.6},{"s":"冰箱","d":"2013-04","v":11.8},{"s":"冰箱","d":"2013-05","v":10.5},{"s":"冰箱","d":"2013-06","v":10},{"s":"冰箱","d":"2013-07","v":9.8},{"s":"冰箱","d":"2013-08","v":9.5},{"s":"冰箱","d":"2013-09","v":10.3},{"s":"冰箱","d":"2013-10","v":11},{"s":"冰箱","d":"2013-11","v":11.7},{"s":"冰箱","d":"2013-12","v":12.2},
{"s":"冰箱","d":"2014-01","v":13.5},{"s":"冰箱","d":"2014-02","v":15},{"s":"冰箱","d":"2014-03","v":12.5},{"s":"冰箱","d":"2014-04","v":11},{"s":"冰箱","d":"2014-05","v":10},{"s":"冰箱","d":"2014-06","v":9.5},{"s":"冰箱","d":"2014-07","v":10.5},{"s":"冰箱","d":"2014-08","v":12.2},{"s":"冰箱","d":"2014-09","v":12},{"s":"冰箱","d":"2014-10","v":11.6},{"s":"冰箱","d":"2014-11","v":12.3},{"s":"冰箱","d":"2014-12","v":12.6},
{"s":"冰箱","d":"2015-01","v":13.3},{"s":"冰箱","d":"2015-02","v":14},{"s":"冰箱","d":"2015-03","v":15.7},{"s":"冰箱","d":"2015-04","v":18.5},{"s":"冰箱","d":"2015-05","v":21.5},{"s":"冰箱","d":"2015-06","v":24},{"s":"冰箱","d":"2015-06-15","v":21},{"s":"冰箱","d":"2015-07","v":17},{"s":"冰箱","d":"2015-07-08","v":10.5},{"s":"冰箱","d":"2015-07-20","v":17},{"s":"冰箱","d":"2015-08","v":18},{"s":"冰箱","d":"2015-09","v":16.5},{"s":"冰箱","d":"2015-10","v":17},{"s":"冰箱","d":"2015-11","v":19},{"s":"冰箱","d":"2015-12","v":18},
{"s":"冰箱","d":"2016-01","v":18.8},{"s":"冰箱","d":"2016-02","v":15.3},{"s":"冰箱","d":"2016-03","v":15},{"s":"冰箱","d":"2016-04","v":15.7},{"s":"冰箱","d":"2016-05","v":14.4},{"s":"冰箱","d":"2016-06","v":15.5},{"s":"冰箱","d":"2016-07","v":16.6},{"s":"冰箱","d":"2016-08","v":16},{"s":"冰箱","d":"2016-09","v":16.2},{"s":"冰箱","d":"2016-10","v":16.4},{"s":"冰箱","d":"2016-11","v":16.2},{"s":"冰箱","d":"2016-12","v":16.4},
{"s":"冰箱","d":"2017-01","v":16.6},{"s":"冰箱","d":"2017-02","v":17.5},{"s":"冰箱","d":"2017-03","v":18},{"s":"冰箱","d":"2017-04","v":19.7},{"s":"冰箱","d":"2017-05-05","v":17.5},
{"s":"洗衣机","d":"2011-01-04","v":30},{"s":"洗衣机","d":"2011-02","v":27},{"s":"洗衣机","d":"2011-03","v":28},{"s":"洗衣机","d":"2011-04","v":33},{"s":"洗衣机","d":"2011-05","v":24},{"s":"洗衣机","d":"2011-06","v":22.5},{"s":"洗衣机","d":"2011-07","v":21.5},{"s":"洗衣机","d":"2011-08","v":19.7},{"s":"洗衣机","d":"2011-09","v":17.5},{"s":"洗衣机","d":"2011-10","v":15.5},{"s":"洗衣机","d":"2011-11","v":13},{"s":"洗衣机","d":"2011-12","v":10.5},
{"s":"洗衣机","d":"2012-01","v":9.3},{"s":"洗衣机","d":"2012-02","v":11},{"s":"洗衣机","d":"2012-03","v":15.3},{"s":"洗衣机","d":"2012-04","v":14.5},{"s":"洗衣机","d":"2012-05","v":14.6},{"s":"洗衣机","d":"2012-06","v":14.4},{"s":"洗衣机","d":"2012-07","v":13.5},{"s":"洗衣机","d":"2012-08","v":12.6},{"s":"洗衣机","d":"2012-09","v":12.2},{"s":"洗衣机","d":"2012-10","v":12},{"s":"洗衣机","d":"2012-11","v":12.2},{"s":"洗衣机","d":"2012-12","v":12.6},
{"s":"洗衣机","d":"2013-01","v":14},{"s":"洗衣机","d":"2013-02","v":16.2},{"s":"洗衣机","d":"2013-03","v":16.8},{"s":"洗衣机","d":"2013-04","v":17},{"s":"洗衣机","d":"2013-05","v":17.5},{"s":"洗衣机","d":"2013-06","v":16.6},{"s":"洗衣机","d":"2013-07","v":15.7},{"s":"洗衣机","d":"2013-08","v":15.7},{"s":"洗衣机","d":"2013-09","v":15.8},{"s":"洗衣机","d":"2013-10","v":16},{"s":"洗衣机","d":"2013-11","v":18.8},{"s":"洗衣机","d":"2013-12","v":21},
{"s":"洗衣机","d":"2014-01","v":20.5},{"s":"洗衣机","d":"2014-02","v":19.7},{"s":"洗衣机","d":"2014-03","v":18},{"s":"洗衣机","d":"2014-04","v":17},{"s":"洗衣机","d":"2014-05","v":16.2},{"s":"洗衣机","d":"2014-06","v":16},{"s":"洗衣机","d":"2014-07","v":16.5},{"s":"洗衣机","d":"2014-08","v":17.5},{"s":"洗衣机","d":"2014-09","v":17.6},{"s":"洗衣机","d":"2014-10","v":18},{"s":"洗衣机","d":"2014-11","v":18.4},{"s":"洗衣机","d":"2014-12","v":19},
{"s":"洗衣机","d":"2015-01","v":20.5},{"s":"洗衣机","d":"2015-02","v":21.2},{"s":"洗衣机","d":"2015-03","v":22},{"s":"洗衣机","d":"2015-04","v":24},{"s":"洗衣机","d":"2015-05","v":26},{"s":"洗衣机","d":"2015-06","v":29.5},{"s":"洗衣机","d":"2015-07","v":25},{"s":"洗衣机","d":"2015-08","v":25.2},{"s":"洗衣机","d":"2015-09","v":23.7},{"s":"洗衣机","d":"2015-10","v":22.4},{"s":"洗衣机","d":"2015-11","v":21.8},{"s":"洗衣机","d":"2015-12","v":21},
{"s":"洗衣机","d":"2016-01","v":21},{"s":"洗衣机","d":"2016-02","v":17},{"s":"洗衣机","d":"2016-03","v":18.4},{"s":"洗衣机","d":"2016-04","v":19.3},{"s":"洗衣机","d":"2016-05","v":20.2},{"s":"洗衣机","d":"2016-06","v":21.3},{"s":"洗衣机","d":"2016-07","v":22.4},{"s":"洗衣机","d":"2016-08","v":24.6},{"s":"洗衣机","d":"2016-09","v":22.5},{"s":"洗衣机","d":"2016-10","v":21},{"s":"洗衣机","d":"2016-11","v":20.6},{"s":"洗衣机","d":"2016-12","v":20.8},
{"s":"洗衣机","d":"2017-01","v":21.5},{"s":"洗衣机","d":"2017-02","v":22.4},{"s":"洗衣机","d":"2017-03","v":23.5},{"s":"洗衣机","d":"2017-04","v":25.5},{"s":"洗衣机","d":"2017-05-05","v":23.3}
               ]},
               "mark":{"type":"line","strokeWidth":2},
               "encoding":{
                "x":{"field":"d","type":"temporal","scale":{"domain":[{"year":2011,"month":1,"date":1},{"year":2017,"month":5,"date":8}]},"axis":{"title":null,"format":"%Y","tickCount":{"interval":"year","step":1},"labelFlush":false,"labelOverlap":false,"tickSize":5,"labelPadding":7,"domainColor":"#555","tickColor":"#555"}},
                "y":{"field":"v","type":"quantitative","scale":{"domain":[0,40]},"axis":{"title":null,"values":[0,5,10,15,20,25,30,35,40],"tickSize":4,"labelPadding":4,"minExtent":30,"maxExtent":30}},
                "color":{"field":"s","type":"nominal","scale":{"domain":["家用电器","空调","冰箱","洗衣机"],"range":["#4A86CE","#BDBDBD","#1A62C0","#F6C445"]},"legend":{"title":null,"orient":"none","legendX":25.8,"legendY":-22,"direction":"horizontal","columnPadding":13,"symbolType":"M-2.7,0H2.7","symbolSize":100,"symbolStrokeWidth":2.5,"labelOffset":13}}
               }
              }
             ]
            }
           ]
          },
          {"width":377,"height":20,"layer":[
            {"data":{"values":[{"p":1}]},"mark":{"type":"rule","color":"#4DAEE2","strokeWidth":1.5},"encoding":{"y":{"field":"p","type":"quantitative","scale":{"domain":[0,1]},"axis":null}}},
            {"data":{"values":[{"t":"来源：Wind，国金证券研究所"}]},"mark":{"type":"text","align":"left","baseline":"middle","dx":12,"dy":10,"fontSize":11,"color":"#222"},"encoding":{"x":{"datum":0,"type":"quantitative","scale":{"domain":[0,1]},"axis":null},"y":{"datum":1,"type":"quantitative","scale":{"domain":[0,1]},"axis":null},"text":{"field":"t"}}}
          ]}
         ]
        }
       ]
      },
      {"width":757,"height":35,"layer":[
        {"data":{"values":[{"p":1}]},"mark":{"type":"rule","color":"#45A9DD","strokeWidth":2},"encoding":{"y":{"field":"p","type":"quantitative","scale":{"domain":[0,1]},"axis":null}}},
        {"data":{"values":[{"t":"- 3 -"}]},"mark":{"type":"text","align":"center","baseline":"middle","dy":10,"fontSize":11,"fontWeight":"bold","color":"#111"},"encoding":{"x":{"datum":0.5,"type":"quantitative","scale":{"domain":[0,1]},"axis":null},"y":{"datum":1,"type":"quantitative","scale":{"domain":[0,1]},"axis":null},"text":{"field":"t"}}},
        {"data":{"values":[{"t":"敬请参阅最后一页特别声明"}]},"mark":{"type":"text","align":"left","baseline":"middle","dx":12,"dy":25,"fontSize":11.5,"color":"#222"},"encoding":{"x":{"datum":0,"type":"quantitative","scale":{"domain":[0,1]},"axis":null},"y":{"datum":1,"type":"quantitative","scale":{"domain":[0,1]},"axis":null},"text":{"field":"t"}}}
      ]}
     ]
    }
   ]
  }
 ]
}
]
}
